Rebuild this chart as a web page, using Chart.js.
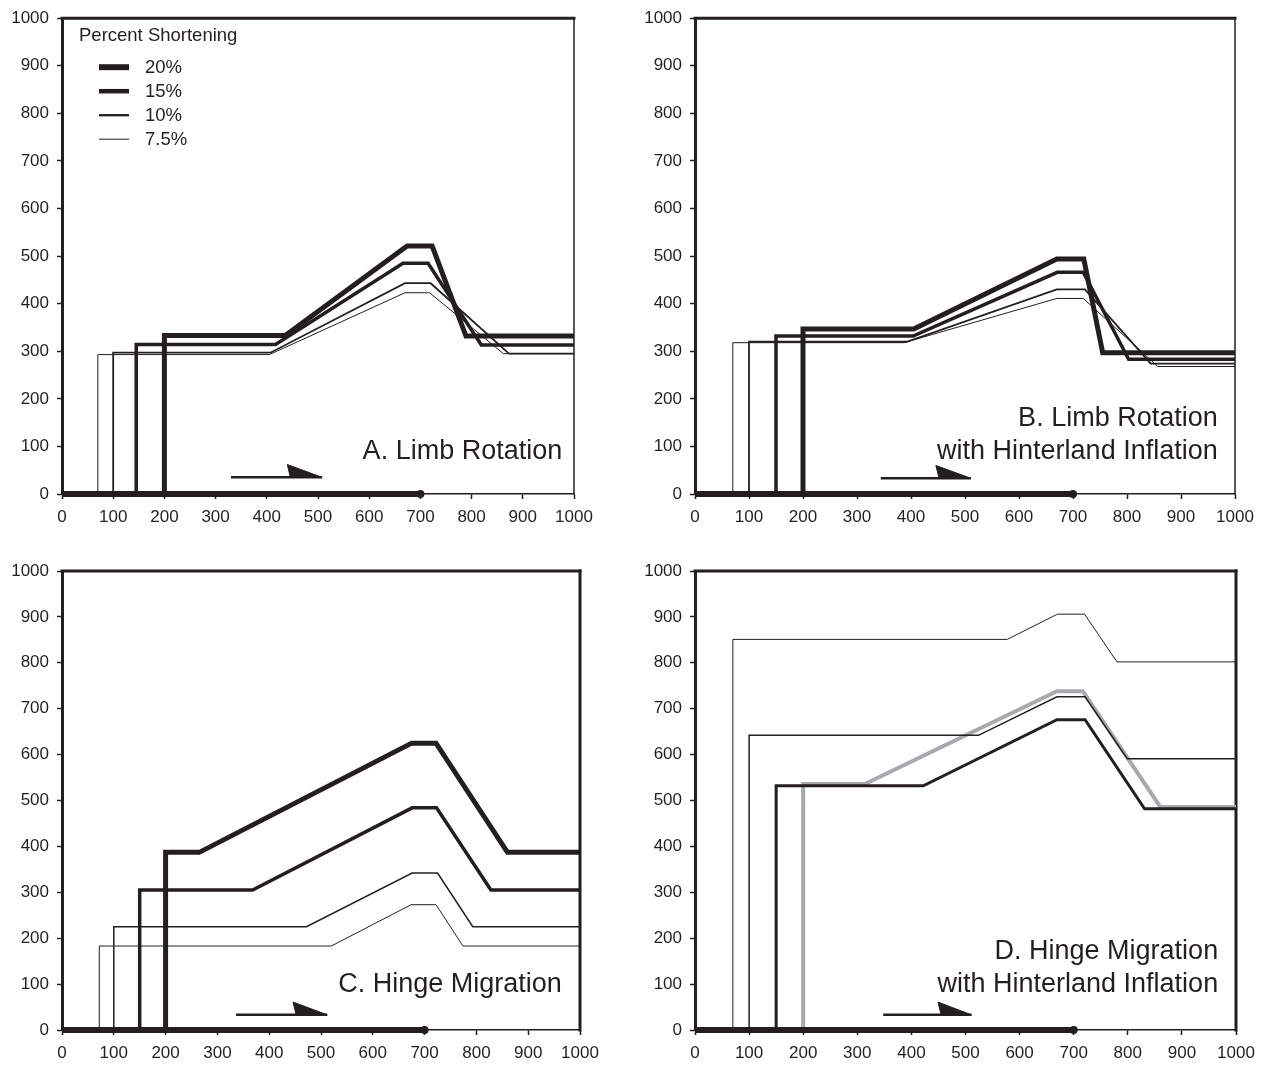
<!DOCTYPE html>
<html>
<head>
<meta charset="utf-8">
<script src="https://cdn.jsdelivr.net/npm/chart.js@4/dist/chart.umd.min.js"></script>
<style>
  body { margin: 0; background: #fff; }
  #wrap { position: relative; width: 1266px; height: 1065px; }
  canvas { position: absolute; }
</style>
</head>
<body>
<div id="wrap">
  <canvas id="chartA" width="633" height="532" style="left:0;top:0"></canvas>
  <canvas id="chartB" width="633" height="532" style="left:633px;top:0"></canvas>
  <canvas id="chartC" width="633" height="533" style="left:0;top:532px"></canvas>
  <canvas id="chartD" width="633" height="533" style="left:633px;top:532px"></canvas>
</div>
<script>
// percent shortening series, [x, y] pairs
const pctLabels = ['20%', '15%', '10%', '7.5%'];

// A. Limb Rotation
const a20 = [[200, 0], [200, 333], [436, 333], [674, 521], [723, 521], [789, 332], [1000, 332]];
const a15 = [[145, 0], [145, 314], [417, 314], [666, 485], [715, 485], [819, 313], [1000, 313]];
const a10 = [[100, 0], [100, 297], [407, 297], [670, 443], [720, 443], [873, 295], [1000, 295]];
const a75 = [[70, 0], [70, 293], [405, 293], [670, 423], [718, 423], [862, 295], [1000, 295]];

// B. Limb Rotation with Hinterland Inflation
const b20 = [[200, 0], [200, 347], [405, 347], [670, 494], [720, 494], [755, 297], [1000, 297]];
const b15 = [[150, 0], [150, 332], [404, 332], [671, 466], [719, 466], [803, 283], [1000, 283]];
const b10 = [[100, 0], [100, 320], [392, 320], [670, 430], [722, 430], [844, 274], [1000, 274]];
const b75 = [[70, 0], [70, 318], [387, 318], [670, 411], [719, 411], [857, 268], [1000, 268]];

// C. Hinge Migration
const c20 = [[200, 0], [200, 387], [265, 387], [675, 625], [722, 625], [860, 387], [1000, 387]];
const c15 = [[150, 0], [150, 305], [368, 305], [676, 484], [723, 484], [828, 305], [1000, 305]];
const c10 = [[100, 0], [100, 225], [472, 225], [676, 342], [725, 342], [793, 225], [1000, 225]];
const c75 = [[72, 0], [72, 183], [520, 183], [674, 273], [722, 273], [774, 183], [1000, 183]];

// D. Hinge Migration with Hinterland Inflation
const d20 = [[200, 0], [200, 536], [314, 536], [669, 738], [717, 738], [860, 486], [1000, 486]];
const d15 = [[150, 0], [150, 532], [422, 532], [669, 676], [721, 676], [831, 482], [1000, 482]];
const d10 = [[100, 0], [100, 642], [524, 642], [669, 726], [721, 726], [799, 591], [1000, 591]];
const d75 = [[70, 0], [70, 851], [577, 851], [670, 906], [720, 906], [780, 802], [1000, 802]];

// basal detachment and transport arrow
const detachment = [[0, 0], [700, 0]];
const arrowShaftA = [[330, 35], [508, 35]];
const arrowHeadA = [[440, 62], [508, 35], [446, 35], [440, 62]];
const arrowShaftB = [[344, 33], [511, 33]];
const arrowHeadB = [[446, 60], [511, 33], [452, 33], [446, 60]];
const arrowShaftC = [[336, 33], [512, 33]];
const arrowHeadC = [[446, 61], [512, 33], [452, 33], [446, 61]];
const arrowShaftD = [[348, 33], [511, 33]];
const arrowHeadD = [[449, 61], [511, 33], [455, 33], [449, 61]];

const xTicks = [0, 100, 200, 300, 400, 500, 600, 700, 800, 900, 1000];
const yTicks = [0, 100, 200, 300, 400, 500, 600, 700, 800, 900, 1000];

const ink = '#231f20';
const grey = '#a7a9ac';
Chart.defaults.font.family = "'Liberation Sans', Arial, Helvetica, sans-serif";
Chart.defaults.color = ink;

const toXY = (pts) => pts.map(p => ({ x: p[0], y: p[1] }));

const line = (label, pts, width, color, order) => ({
  label: label,
  data: toXY(pts),
  showLine: true,
  borderColor: color || ink,
  backgroundColor: color || ink,
  borderWidth: width,
  pointRadius: 0,
  fill: false,
  clip: false,
  order: order || 0
});

const baseSets = (shaft, head) => [
  {
    label: 'detachment',
    data: toXY(detachment),
    showLine: true,
    borderColor: ink,
    backgroundColor: ink,
    borderWidth: 6,
    pointRadius: (ctx) => ctx.dataIndex === detachment.length - 1 ? 4 : 0,
    pointBorderWidth: 0,
    clip: false
  },
  line('arrow', shaft, 2.5),
  {
    label: 'arrowhead',
    data: toXY(head),
    showLine: true,
    borderColor: ink,
    backgroundColor: ink,
    borderWidth: 1,
    pointRadius: 0,
    fill: 'shape',
    clip: false
  }
];

// top / right frame edges
const framePlugin = {
  id: 'frame',
  beforeDatasetsDraw(chart, args, opts) {
    const { ctx, chartArea: a } = chart;
    ctx.save();
    ctx.strokeStyle = ink;
    ctx.lineCap = 'square';
    ctx.lineWidth = opts.top;
    ctx.beginPath();
    ctx.moveTo(a.left, a.top);
    ctx.lineTo(a.right, a.top);
    ctx.stroke();
    ctx.lineWidth = opts.right;
    ctx.beginPath();
    ctx.moveTo(a.right, a.top);
    ctx.lineTo(a.right, a.bottom);
    ctx.stroke();
    ctx.restore();
  }
};

// panel caption, anchored in data units
const captionPlugin = {
  id: 'caption',
  afterDatasetsDraw(chart, args, opts) {
    if (!opts.lines) return;
    const { ctx, scales } = chart;
    ctx.save();
    ctx.fillStyle = ink;
    ctx.font = "27px 'Liberation Sans', Arial, sans-serif";
    ctx.textAlign = 'right';
    ctx.textBaseline = 'middle';
    opts.lines.forEach((t, i) => {
      ctx.fillText(t, scales.x.getPixelForValue(opts.x), scales.y.getPixelForValue(opts.y[i]));
    });
    ctx.restore();
  }
};

// "Percent Shortening" key, only in panel A
const keyPlugin = {
  id: 'shortKey',
  afterDatasetsDraw(chart, args, opts) {
    if (!opts.show) return;
    const { ctx, chartArea: a } = chart;
    ctx.save();
    ctx.fillStyle = ink;
    ctx.strokeStyle = ink;
    ctx.font = "18.5px 'Liberation Sans', Arial, sans-serif";
    ctx.textBaseline = 'middle';
    ctx.fillText('Percent Shortening', a.left + 17, a.top + 18);
    pctLabels.forEach((t, i) => {
      const y = a.top + 49 + i * 24;
      ctx.lineWidth = opts.widths[i];
      ctx.beginPath();
      ctx.moveTo(a.left + 37, y);
      ctx.lineTo(a.left + 67, y);
      ctx.stroke();
      ctx.fillText(t, a.left + 83, y + 1);
    });
    ctx.restore();
  }
};

const makeChart = (id, datasets, pad, xAxisH, frame, caption, key) => {
  const ctx = document.getElementById(id).getContext('2d');
  return new Chart(ctx, {
    type: 'scatter',
    data: { datasets: datasets },
    options: {
      responsive: false,
      animation: false,
      events: [],
      layout: { padding: { top: pad.top, right: pad.right, left: 0, bottom: 0 } },
      scales: {
        x: {
          type: 'linear', min: 0, max: 1000,
          afterBuildTicks: (s) => { s.ticks = xTicks.map(v => ({ value: v })); },
          ticks: { color: ink, font: { size: 17 }, padding: 8, maxRotation: 0, autoSkip: false, callback: (v) => String(v) },
          grid: { drawOnChartArea: false, tickLength: 5, tickWidth: 1.5, tickColor: ink },
          border: { width: 1.5, color: ink },
          afterFit: (s) => { s.height = xAxisH; }
        },
        y: {
          type: 'linear', min: 0, max: 1000,
          afterBuildTicks: (s) => { s.ticks = yTicks.map(v => ({ value: v })); },
          ticks: { color: ink, font: { size: 17 }, padding: 8, autoSkip: false, callback: (v) => String(v) },
          grid: { drawOnChartArea: false, tickLength: 5, tickWidth: 1.5, tickColor: ink },
          border: { width: 3, color: ink },
          afterFit: (s) => { s.width = 62; }
        }
      },
      plugins: {
        legend: { display: false },
        tooltip: { enabled: false },
        frame: frame,
        caption: caption,
        shortKey: key || { show: false }
      }
    },
    plugins: [framePlugin, captionPlugin, keyPlugin]
  });
};

makeChart('chartA',
  baseSets(arrowShaftA, arrowHeadA).concat([
    line('20%', a20, 5), line('15%', a15, 3.5), line('10%', a10, 1.8), line('7.5%', a75, 1)
  ]),
  { top: 18, right: 59 }, 38, { top: 3, right: 1.5 },
  { lines: ['A. Limb Rotation'], x: 977, y: [89] },
  { show: true, widths: [6, 4.5, 2.3, 1] });

makeChart('chartB',
  baseSets(arrowShaftB, arrowHeadB).concat([
    line('20%', b20, 5), line('15%', b15, 3.5), line('10%', b10, 1.8), line('7.5%', b75, 1)
  ]),
  { top: 18, right: 31 }, 38, { top: 3, right: 1.5 },
  { lines: ['B. Limb Rotation', 'with Hinterland Inflation'], x: 968, y: [159, 89] });

makeChart('chartC',
  baseSets(arrowShaftC, arrowHeadC).concat([
    line('20%', c20, 5), line('15%', c15, 3.5), line('10%', c10, 1.5), line('7.5%', c75, 1)
  ]),
  { top: 39, right: 53 }, 35, { top: 3, right: 3 },
  { lines: ['C. Hinge Migration'], x: 965, y: [99] });

makeChart('chartD',
  baseSets(arrowShaftD, arrowHeadD).concat([
    line('15%', d15, 3), line('10%', d10, 1.5), line('7.5%', d75, 1), line('20%', d20, 4, grey, 1)
  ]),
  { top: 39, right: 30 }, 35, { top: 3, right: 3 },
  { lines: ['D. Hinge Migration', 'with Hinterland Inflation'], x: 967, y: [171, 99] });
</script>
</body>
</html>
